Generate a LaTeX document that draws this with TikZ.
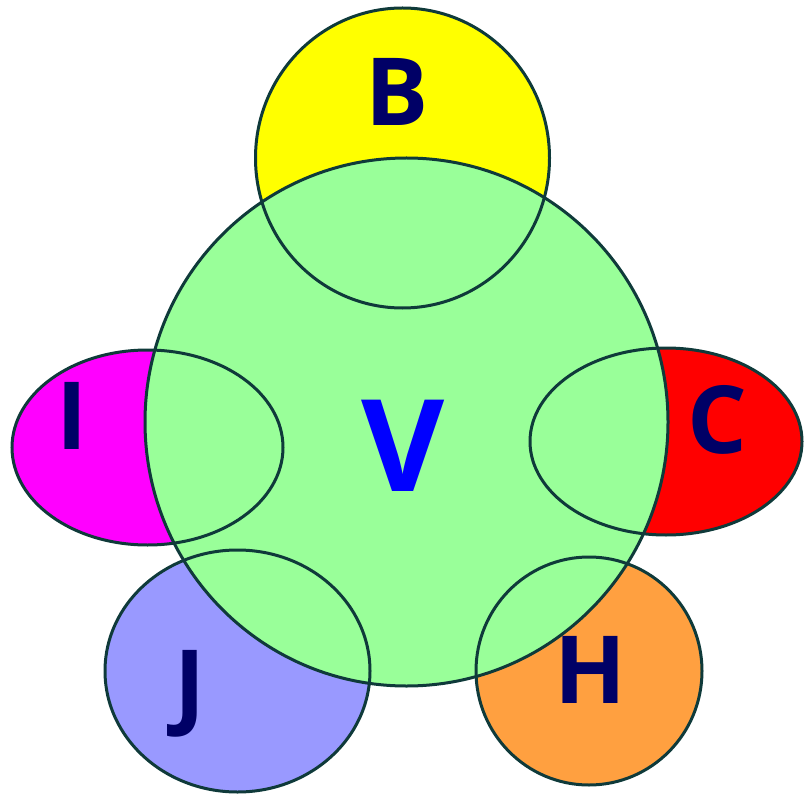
\documentclass[tikz,border=0pt]{standalone}
\usepackage{fontspec}
\setmainfont{Open Sans}
\begin{document}
\begin{tikzpicture}[x=1pt,y=-1pt,
  ring/.style={draw=outl,line width=3pt},
  letter/.style={text=navy,font=\fontsize{94}{94}\selectfont\bfseries,inner sep=0pt,anchor=center}]
\definecolor{outl}{HTML}{0F3A3A}
\definecolor{navy}{HTML}{000066}
\definecolor{vgreen}{HTML}{99FF99}
\definecolor{jblue}{HTML}{9999FF}
\definecolor{horange}{HTML}{FFA040}
\definecolor{byellow}{HTML}{FFFF00}
\definecolor{imagenta}{HTML}{FF00FF}
\definecolor{cred}{HTML}{FF0000}
\definecolor{vblue}{HTML}{0000FF}
\useasboundingbox (0,0) rectangle (808,794);
\coordinate (cB) at (402.5,158);
\coordinate (cI) at (147.5,447.5);
\coordinate (cC) at (666,441.5);
\coordinate (cJ) at (237.5,671);
\coordinate (cH) at (589,671);
\coordinate (cV) at (406.5,422);
% fills
\fill[byellow] (cB) ellipse [x radius=147, y radius=150];
\fill[imagenta] (cI) ellipse [x radius=135.5, y radius=97.5];
\fill[cred] (cC) ellipse [x radius=136, y radius=93.5];
\fill[jblue] (cJ) ellipse [x radius=132.5, y radius=121];
\fill[horange] (cH) ellipse [x radius=113, y radius=114];
\fill[vgreen] (cV) ellipse [x radius=261.5, y radius=264];
% outlines
\draw[ring] (cB) ellipse [x radius=147, y radius=150];
\draw[ring] (cI) ellipse [x radius=135.5, y radius=97.5];
\draw[ring] (cC) ellipse [x radius=136, y radius=93.5];
\draw[ring] (cJ) ellipse [x radius=132.5, y radius=121];
\draw[ring] (cH) ellipse [x radius=113, y radius=114];
\draw[ring] (cV) ellipse [x radius=261.5, y radius=264];
% labels
\node[letter] (tB) at (397.5,91.5) {B};
\node[letter,text=vblue,font=\fontsize{128}{128}\selectfont\bfseries] (tV) at (403,446) {V};
\node[letter] (tI) at (72,416) {I};
\node[letter] (tC) at (717.5,420) {C};
\node[letter] (tJ) at (190,694) {J};
\node[letter] (tH) at (590,670) {H};
\end{tikzpicture}
\end{document}
